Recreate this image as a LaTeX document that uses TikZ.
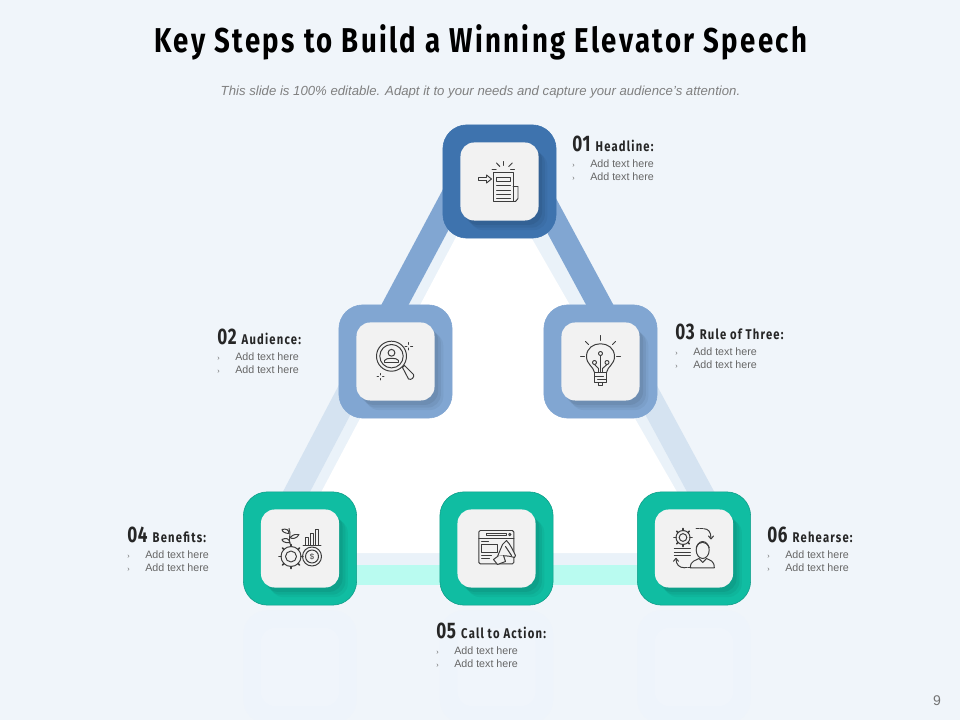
\documentclass[tikz,border=0pt]{standalone}
\usepackage{fontspec}
\usepackage{xcolor}
\usetikzlibrary{shadows}
\setmainfont{Liberation Sans}
\newfontfamily\dinfont[FakeStretch=0.8,LetterSpace=7]{Fira Sans}
\newfontfamily\dinlabel[FakeStretch=0.8,LetterSpace=8.5]{Fira Sans}
\newfontfamily\dinnumber[FakeStretch=0.76,LetterSpace=3]{Fira Sans}
\definecolor{pagebg}{HTML}{F0F5FA}
\definecolor{palestrip}{HTML}{EAF2F9}
\definecolor{topblue}{HTML}{3E73AE}
\definecolor{midblue}{HTML}{81A6D2}
\definecolor{lowblue}{HTML}{D5E3F1}
\definecolor{tealbox}{HTML}{10BDA2}
\definecolor{tealedge}{HTML}{0E9C88}
\definecolor{mintbar}{HTML}{B9FBF0}
\definecolor{cardgray}{HTML}{F2F2F2}
\definecolor{iconink}{HTML}{3C3C3C}
\definecolor{ghostbox}{HTML}{EEF4FB}
\definecolor{ghostcard}{HTML}{F0F5FB}
\newcommand{\addline}[1]{\\[#1]\makebox[0.45cm][l]{\fontsize{5}{5}\selectfont ›}Add text here}
\newcommand{\steplabel}[2]{{\color{black!85}\bfseries{\dinnumber\fontsize{16}{15}\selectfont #1}\hspace{1.5pt} \dinlabel\fontsize{10}{15}\selectfont #2}\addline{2.2pt}\addline{-0.5pt}}
\newcommand{\gearicon}[3]{%
  \draw (#1,#2) circle (#3);
  \foreach \a in {0,45,...,315} \draw[line width=1.2pt] (#1,#2) ++(\a:#3) -- ++(\a:2);
  \draw (#1,#2) circle (#3*0.55);}
\begin{document}
\begin{tikzpicture}[x=0.025cm, y=-0.025cm,
  outerbox/.style={draw, line width=0.4pt, rounded corners=0.6cm, minimum size=2.83cm, inner sep=0pt},
  cardbox/.style={fill=cardgray, rounded corners=0.34cm, minimum size=1.95cm, inner sep=0pt,
    drop shadow={shadow xshift=0.22cm, shadow yshift=-0.24cm, fill=black, opacity=0.04},
    drop shadow={shadow xshift=0.16cm, shadow yshift=-0.18cm, fill=black, opacity=0.05},
    drop shadow={shadow xshift=0.09cm, shadow yshift=-0.11cm, fill=black, opacity=0.06}},
  ghostouter/.style={fill=ghostbox, rounded corners=0.6cm, minimum size=2.83cm, inner sep=0pt},
  ghostinner/.style={fill=ghostcard, rounded corners=0.34cm, minimum size=1.95cm, inner sep=0pt},
  sidebar/.style={line width=0.6cm},
  itemlabel/.style={anchor=north west, align=left, inner sep=0pt, text=black!60, font=\fontsize{7.6}{9.2}\selectfont},
  icon/.style={draw=iconink, line width=0.7pt, line cap=round, line join=round}]
\useasboundingbox (0,0) rectangle (960,720);
\fill[pagebg] (0,0) rectangle (960,720);
\coordinate (al) at (461,181);
\coordinate (ar) at (533,181);
\coordinate (ml) at (365,361);
\coordinate (mr) at (630,361);
\coordinate (bl) at (267,548);
\coordinate (br) at (731,548);
\coordinate (m04) at (300,575);
\coordinate (m06) at (694,575);
% reflections
\begin{scope}
\clip (0,600) rectangle (960,720);
\node[ghostouter] (g04) at (300,667) {};
\node[ghostouter] (g05) at (496.5,667) {};
\node[ghostouter] (g06) at (694,667) {};
\node[ghostinner] (c04) at (g04) {};
\node[ghostinner] (c05) at (g05) {};
\node[ghostinner] (c06) at (g06) {};
\end{scope}
% triangle
\fill[palestrip] (491,130) -- (503,130) -- (740,565) -- (258,565) -- cycle;
\fill[white] (492,169) -- (289,553) -- (712,553) -- cycle;
\draw[sidebar, lowblue] (ml) -- (bl);
\draw[sidebar, lowblue] (mr) -- (br);
\draw[sidebar, midblue] (al) -- (ml);
\draw[sidebar, midblue] (ar) -- (mr);
\draw[line width=0.5cm, mintbar] (m04) -- (m06);
% blocks
\node[outerbox, fill=topblue, draw=topblue] (n01) at (499.5,181.5) {};
\node[outerbox, fill=midblue, draw=midblue] (n02) at (395.5,361.5) {};
\node[outerbox, fill=midblue, draw=midblue] (n03) at (600.5,361.5) {};
\node[outerbox, fill=tealbox, draw=tealedge] (n04) at (300,548.5) {};
\node[outerbox, fill=tealbox, draw=tealedge] (n05) at (496.5,548.5) {};
\node[outerbox, fill=tealbox, draw=tealedge] (n06) at (694,548.5) {};
\node[cardbox] (i01) at (n01) {};
\node[cardbox] (i02) at (n02) {};
\node[cardbox] (i03) at (n03) {};
\node[cardbox] (i04) at (n04) {};
\node[cardbox] (i05) at (n05) {};
\node[cardbox] (i06) at (n06) {};
% title
\node[font=\dinfont\bfseries\fontsize{24.5}{28}\selectfont] (title) at (481,42) {Key Steps to Build a Winning Elevator Speech};
\node[font=\itshape\fontsize{9.37}{11}\selectfont, text=black!50] (subtitle) at (480.5,92) {This slide is 100\% editable. Adapt it to your needs and capture your audience's attention.};
\node[font=\fontsize{10}{12}\selectfont, text=black!55] (pageno) at (937,701) {9};
% labels
\node[itemlabel] (t01) at (572,136) {\steplabel{01}{Headline:}};
\node[itemlabel] (t02) at (217,329) {\steplabel{02}{Audience:}};
\node[itemlabel] (t03) at (675,324) {\steplabel{03}{Rule of Three:}};
\node[itemlabel] (t04) at (127,527) {\steplabel{04}{Benefits:}};
\node[itemlabel] (t05) at (436,623) {\steplabel{05}{Call to Action:}};
\node[itemlabel] (t06) at (767,527) {\steplabel{06}{Rehearse:}};
% icon 01
\begin{scope}[shift={(i01.center)}, icon]
\draw (-6,-9) rectangle (13.5,20);
\draw (-3,-4.5) rectangle (11,-0.5);
\foreach \y in {3.5,8.5,12.5,16.5} \draw (-3,\y) -- (11,\y);
\draw (13.5,5) -- (18.5,5) -- (18.5,17) -- (16,20) -- (13.5,20);
\draw (-21,-4) -- (-13,-4) -- (-13,-6.5) -- (-8,-2.5) -- (-13,1.5) -- (-13,-1) -- (-21,-1) -- cycle;
\draw (3.7,-20) -- (3.7,-16);
\draw (-3,-18.5) -- (0.3,-15);
\draw (12.7,-18.5) -- (9.3,-15);
\draw (-7.3,-12.2) -- (-3.3,-12.2);
\draw (11,-12.2) -- (15,-12.2);
\end{scope}
% icon 02
\begin{scope}[shift={(i02.center)}, icon]
\draw (-4,-5.3) circle (15);
\draw (-4,-5.3) circle (11.7);
\draw (-4,-8.7) circle (3.4);
\draw (-11,1) -- (-11,-1) .. controls (-10,-4) and (2,-4) .. (3,-1) -- (3,1) -- cycle;
\draw (7,6) -- (9,4) -- (18,13) .. controls (19,16) and (16,19) .. (13,17.5) -- cycle;
\draw (13.3,-19) -- (13.3,-17) (13.3,-13.5) -- (13.3,-11.5) (9.5,-15.3) -- (11.5,-15.3) (15.2,-15.3) -- (17.2,-15.3);
\draw (-15,12) -- (-15,13.5) (-15,17) -- (-15,18.5) (-18.5,15.3) -- (-17,15.3) (-13,15.3) -- (-11.5,15.3);
\end{scope}
% icon 03
\begin{scope}[shift={(i03.center)}, icon]
\draw (-6,11) .. controls (-7,5) and (-14,3) .. (-14,-5) .. controls (-14,-22) and (14,-22) .. (14,-5) .. controls (14,3) and (7,5) .. (6,11) -- cycle;
\draw (-6,11) rectangle (6,21);
\draw (-6,14.5) -- (3,14.5) (-3,18) -- (6,18);
\draw (-2,21) -- (-2,24) -- (2,24) -- (2,21);
\draw (0,11) -- (0,-6);
\draw (-6,1) circle (2) (6.5,1) circle (2) (0,-8) circle (2);
\draw (-6,3) -- (-2,7) -- (-2,11) (6.5,3) -- (2,7) -- (2,11);
\draw (0,-26) -- (0,-21) (-15,-20) -- (-12,-17) (15,-20) -- (12,-17) (-20,-5) -- (-16,-5) (20,-5) -- (16,-5);
\end{scope}
% icon 04
\begin{scope}[shift={(i04.center)}, icon]
\gearicon{-9}{8}{10}
\draw (12,8) circle (9.5) (12,8) circle (6.5);
\node[font=\fontsize{5.5}{6}\selectfont, text=iconink, inner sep=0pt] (dollar) at (12,8) {\$};
\draw (3,-3) -- (21,-3);
\draw (5.3,-3) rectangle (8.7,-11.3) (10.3,-3) rectangle (13.8,-15.3) (15,-3) rectangle (18.3,-18.7);
\draw (-9,-3) .. controls (-13,-9) and (-8,-14) .. (-11,-20);
\draw (-10,-6) .. controls (-16,-5) and (-18,-8) .. (-18,-9) .. controls (-14,-11) and (-11,-10) .. cycle;
\draw (-10,-11) .. controls (-6,-15) and (-3,-14) .. (-1,-14) .. controls (-3,-10) and (-8,-9) .. cycle;
\draw (-11,-15) .. controls (-15,-15) and (-18,-17) .. (-18,-19) .. controls (-14,-20) and (-11,-19) .. cycle;
\end{scope}
% icon 05
\begin{scope}[shift={(i05.center)}, icon]
\draw[rounded corners=1pt] (-17.7,-18) rectangle (17.3,15.3);
\draw (-17.7,-9.7) -- (17.3,-9.7);
\draw (-10.3,-15.3) rectangle (9.7,-13);
\draw (13.3,-14) circle (1.2);
\draw (-15,-3.7) rectangle (0.7,3.7);
\draw (-15,-7) -- (-8,-7) (-15,7) -- (-5,7) (-15,10) -- (-7,10);
\filldraw[fill=cardgray] (6,-4) -- (10,-8) .. controls (14,-4) and (17,3) .. (19,7) -- (18,9) .. controls (12,7) and (7,7) .. (1,8) -- cycle;
\filldraw[fill=cardgray] (1,8) -- (-3,11) -- (1,16) -- (9,13) -- (7,7);
\draw (9,-2) -- (15,7);
\end{scope}
% icon 06
\begin{scope}[shift={(i06.center)}, icon]
\gearicon{-11}{-11}{7}
\draw (-19.7,0.3) -- (-3.7,0.3) (-19.7,3.7) -- (-3.7,3.7) (-19.7,7) -- (-3.7,7);
\draw (8.7,1.5) ellipse (6.5 and 8.5);
\draw (-3.7,19.3) .. controls (-3.7,12) and (2,12) .. (5,10) -- (8.7,14) -- (12.5,10) .. controls (16,12) and (20.3,12) .. (20.3,19.3) -- cycle;
\draw (2.2,-1) .. controls (5,-8) and (12,-8) .. (15.2,-1);
\draw[dashed, dash pattern=on 2pt off 1pt] (2,-19.7) -- (10,-19.7);
\draw (10,-19.7) .. controls (14,-19.7) and (17,-17) .. (17,-10);
\draw (14.5,-12.5) -- (17,-9.5) -- (19.5,-12.5);
\draw[dashed, dash pattern=on 2pt off 1pt] (-3,19.3) -- (-9,19.3);
\draw (-9,19.3) .. controls (-15,19.3) and (-18,16) .. (-18,10.3);
\draw (-20.5,12.8) -- (-18,9.8) -- (-15.5,12.8);
\end{scope}
\end{tikzpicture}
\end{document}
